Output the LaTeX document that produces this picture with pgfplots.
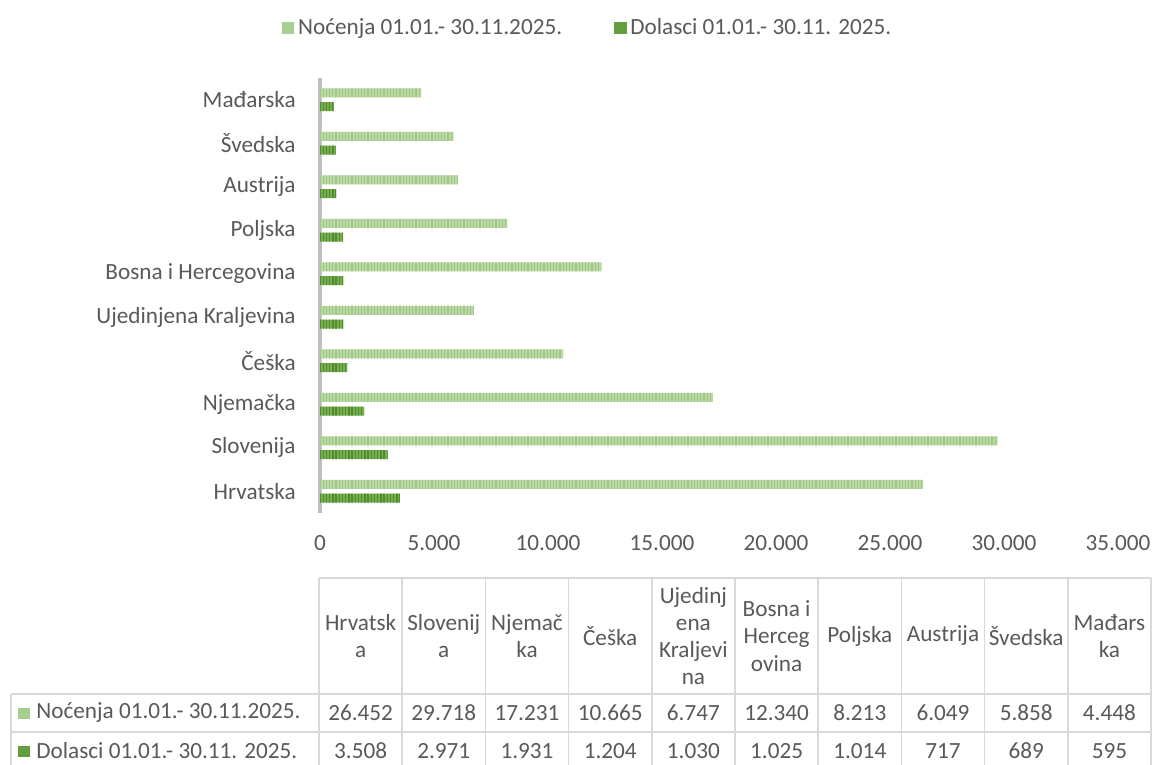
\documentclass[border=0pt]{standalone}
\usepackage{pgfplots}
\pgfplotsset{compat=1.18}
\usepackage{fontspec}
\setmainfont{Carlito}
\usetikzlibrary{patterns.meta}
\definecolor{txt}{RGB}{89,89,89}
\definecolor{lightA}{RGB}{186,217,166}
\definecolor{lightB}{RGB}{158,199,131}
\definecolor{darkA}{RGB}{118,176,78}
\definecolor{darkB}{RGB}{84,138,50}
\definecolor{lightS}{RGB}{168,207,143}
\definecolor{darkS}{RGB}{98,158,60}
\definecolor{gridc}{RGB}{217,217,217}
\definecolor{axc}{RGB}{191,191,191}
\newcommand\tf{\fontsize{11.6pt}{13.6pt}\selectfont}
\tikzset{
  lightbar/.style={fill=lightA, draw=none, postaction={pattern={Lines[angle=90,distance=1.6pt,line width=0.6pt]}, pattern color=lightB}},
  darkbar/.style={fill=darkA, draw=none, postaction={pattern={Lines[angle=90,distance=1.6pt,line width=0.7pt]}, pattern color=darkB}},
}
\begin{document}
\begin{tikzpicture}
\useasboundingbox (0,0) rectangle (578pt,382.5pt);
\begin{axis}[
  at={(160pt,126pt)}, anchor=south west,
  scale only axis, width=399pt, height=217.5pt,
  bar width=4.5pt,
  xmin=0, xmax=35000, ymin=-0.5, ymax=9.5,
  scaled x ticks=false,
  axis lines*=left,
  x axis line style={draw=none},
  y axis line style={draw=axc, line width=1.6pt},
  major tick length=0pt,
  xtick={0,5000,10000,15000,20000,25000,30000,35000},
  xticklabels={0,5.000,10.000,15.000,20.000,25.000,30.000,35.000},
  ytick={0,1,2,3,4,5,6,7,8,9},
  yticklabels={Hrvatska,Slovenija,Njemačka,Češka,Ujedinjena Kraljevina,Bosna i Hercegovina,Poljska,Austrija,Švedska,Mađarska},
  tick label style={font=\tf, text=txt},
  xticklabel style={anchor=north, inner sep=0pt, yshift=-11pt},
  yticklabel style={anchor=east, inner sep=0pt, xshift=-12pt},
  legend columns=2,
  legend style={at={(0.3365,1.115)}, anchor=center, draw=none, fill=none, font=\tf, text=txt,
    /tikz/every even column/.append style={column sep=24pt}},
]
\addplot[xbar, bar shift=3.4pt, lightbar, forget plot] coordinates {
(26452,0) (29718,1) (17231,2) (10665,3) (6747,4) (12340,5) (8213,6) (6049,7) (5858,8) (4448,9)};
\addplot[xbar, bar shift=-3.4pt, darkbar, forget plot] coordinates {
(3508,0) (2971,1) (1931,2) (1204,3) (1030,4) (1025,5) (1014,6) (717,7) (689,8) (595,9)};
\addlegendimage{legend image code/.code={\fill[lightS] (-1.5pt,-2.6pt) rectangle (4.2pt,2.6pt);}}
\addlegendimage{legend image code/.code={\fill[darkS] (-1.5pt,-2.6pt) rectangle (4.2pt,2.6pt);}}
\legend{Noćenja 01.01.- 30.11.2025., Dolasci 01.01.- 30.11. 2025.}
\end{axis}
\begin{scope}[yshift=382.5pt, x=0.5pt, y=-0.5pt]
  \draw[gridc, line width=0.8pt] (319,578) -- (1151,578);
  \draw[gridc, line width=0.8pt] (11,694) -- (1151,694);
  \draw[gridc, line width=0.8pt] (11,732) -- (1151,732);
  \draw[gridc, line width=0.8pt] (11,694) -- (11,766);
  \foreach \k in {0,...,10} {
    \draw[gridc, line width=0.8pt] (319+83.2*\k,578) -- (319+83.2*\k,766);
  }
  \foreach \k/\t in {0/{Hrvatsk\\a},1/{Slovenij\\a},2/{Njemač\\ka},3/{Češka},4/{Ujedinj\\ena\\Kraljevi\\na},5/{Bosna i\\Herceg\\ovina},6/{Poljska},7/{Austrija},8/{Švedska},9/{Mađars\\ka}} {
    \node[font=\tf, text=txt, align=center, inner sep=0pt] at (360.6+83.2*\k,636) {\t};
  }
  \foreach \k/\t in {0/26.452,1/29.718,2/17.231,3/10.665,4/6.747,5/12.340,6/8.213,7/6.049,8/5.858,9/4.448} {
    \node[font=\tf, text=txt, inner sep=0pt] at (360.6+83.2*\k,713) {\t};
  }
  \foreach \k/\t in {0/3.508,1/2.971,2/1.931,3/1.204,4/1.030,5/1.025,6/1.014,7/717,8/689,9/595} {
    \node[font=\tf, text=txt, inner sep=0pt] at (360.6+83.2*\k,751) {\t};
  }
  \fill[lightS] (18,708) rectangle (30,719);
  \node[font=\tf, text=txt, anchor=west, inner sep=0pt] at (36,713) {Noćenja 01.01.- 30.11.2025.};
  \fill[darkS] (18,746) rectangle (30,757);
  \node[font=\tf, text=txt, anchor=west, inner sep=0pt] at (36,751) {Dolasci 01.01.- 30.11. 2025.};
\end{scope}
\end{tikzpicture}
\end{document}
